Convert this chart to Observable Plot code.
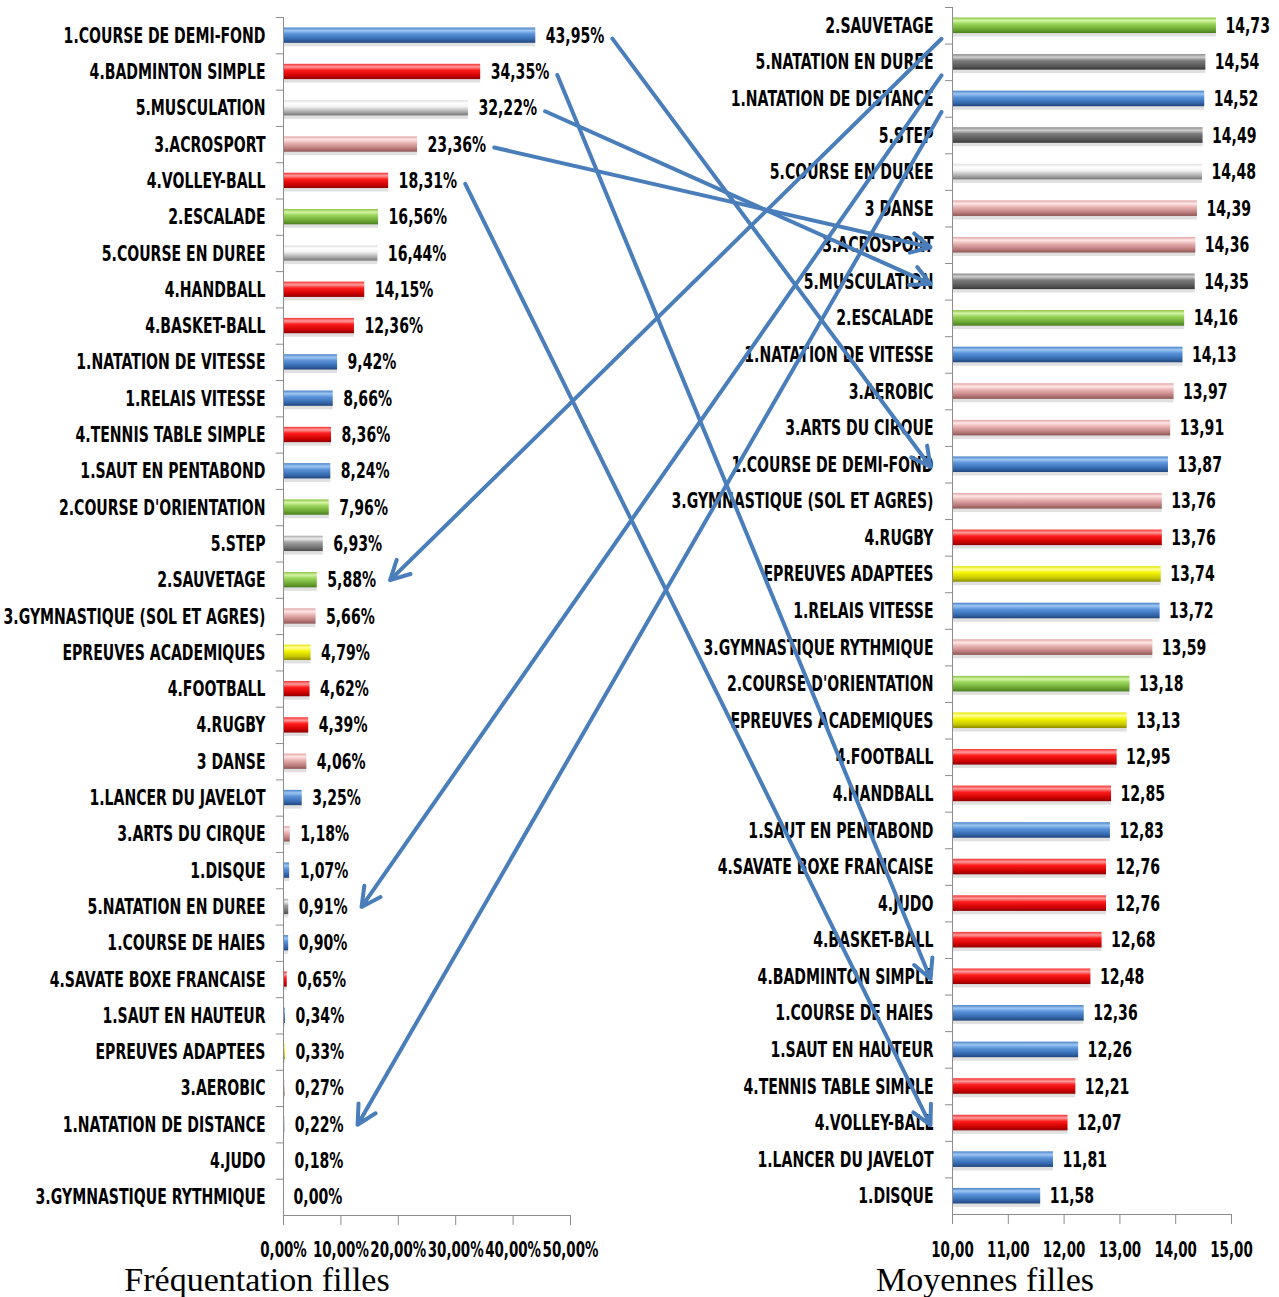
<!DOCTYPE html>
<html><head><meta charset="utf-8">
<script src="https://cdn.jsdelivr.net/npm/d3@7"></script>
<script src="https://cdn.jsdelivr.net/npm/@observablehq/plot@0.6"></script>
<style>
body{margin:0;background:#fff;}
#wrap{position:relative;width:1279px;height:1297px;overflow:hidden;background:#fff;}
.panel{position:absolute;top:0;}
.title{position:absolute;font-family:"Liberation Serif","DejaVu Serif",serif;font-size:34px;color:#000;white-space:nowrap;transform:translateX(-50%);line-height:38px;}
</style></head><body><div id="wrap"></div>
<script>
// ---------- DATA ----------
const freqCategories = ["1.COURSE DE DEMI-FOND","4.BADMINTON SIMPLE","5.MUSCULATION","3.ACROSPORT","4.VOLLEY-BALL","2.ESCALADE","5.COURSE EN DUREE","4.HANDBALL","4.BASKET-BALL","1.NATATION DE VITESSE","1.RELAIS VITESSE","4.TENNIS TABLE SIMPLE","1.SAUT EN PENTABOND","2.COURSE D'ORIENTATION","5.STEP","2.SAUVETAGE","3.GYMNASTIQUE (SOL ET AGRES)","EPREUVES ACADEMIQUES","4.FOOTBALL","4.RUGBY","3 DANSE","1.LANCER DU JAVELOT","3.ARTS DU CIRQUE","1.DISQUE","5.NATATION EN DUREE","1.COURSE DE HAIES","4.SAVATE BOXE FRANCAISE","1.SAUT EN HAUTEUR","EPREUVES ADAPTEES","3.AEROBIC","1.NATATION DE DISTANCE","4.JUDO","3.GYMNASTIQUE RYTHMIQUE"];
const freqValues = [43.95,34.35,32.22,23.36,18.31,16.56,16.44,14.15,12.36,9.42,8.66,8.36,8.24,7.96,6.93,5.88,5.66,4.79,4.62,4.39,4.06,3.25,1.18,1.07,0.91,0.90,0.65,0.34,0.33,0.27,0.22,0.18,0.00];
const moyCategories = ["2.SAUVETAGE","5.NATATION EN DUREE","1.NATATION DE DISTANCE","5.STEP","5.COURSE EN DUREE","3 DANSE","3.ACROSPORT","5.MUSCULATION","2.ESCALADE","1.NATATION DE VITESSE","3.AEROBIC","3.ARTS DU CIRQUE","1.COURSE DE DEMI-FOND","3.GYMNASTIQUE (SOL ET AGRES)","4.RUGBY","EPREUVES ADAPTEES","1.RELAIS VITESSE","3.GYMNASTIQUE RYTHMIQUE","2.COURSE D'ORIENTATION","EPREUVES ACADEMIQUES","4.FOOTBALL","4.HANDBALL","1.SAUT EN PENTABOND","4.SAVATE BOXE FRANCAISE","4.JUDO","4.BASKET-BALL","4.BADMINTON SIMPLE","1.COURSE DE HAIES","1.SAUT EN HAUTEUR","4.TENNIS TABLE SIMPLE","4.VOLLEY-BALL","1.LANCER DU JAVELOT","1.DISQUE"];
const moyValues = [14.73,14.54,14.52,14.49,14.48,14.39,14.36,14.35,14.16,14.13,13.97,13.91,13.87,13.76,13.76,13.74,13.72,13.59,13.18,13.13,12.95,12.85,12.83,12.76,12.76,12.68,12.48,12.36,12.26,12.21,12.07,11.81,11.58];
const freqTicks = [0,10,20,30,40,50];
const moyTicks = [10,11,12,13,14,15];
const arrowsLeftToRight = ["1.COURSE DE DEMI-FOND","4.BADMINTON SIMPLE","5.MUSCULATION","3.ACROSPORT","4.VOLLEY-BALL"];
const arrowsRightToLeft = ["2.SAUVETAGE","5.NATATION EN DUREE","1.NATATION DE DISTANCE"];
const titleLeft = "Fréquentation filles";
const titleRight = "Moyennes filles";

// ---------- STYLE ----------
const FONT = "'DejaVu Sans',sans-serif";
const FS = 22;          // font size
const SX = 0.64;        // horizontal condensing of the chart texts
const gradients = {
  blue:   ["#4a82c8","#9cc6f2","#5a93da","#3468ad","#22457a"],
  red:    ["#f43030","#ff9c9c","#ff1c1c","#cc0000","#8e0000"],
  gray:   ["#a8a8a8","#efefef","#a4a4a4","#707070","#4e4e4e"],
  dark:   ["#8a8a8a","#cfcfcf","#7c7c7c","#575757","#383838"],
  white:  ["#dedede","#ffffff","#f4f4f4","#a8a8a8","#767676"],
  pink:   ["#e0a4a4","#ffe6e6","#ebb5b5","#bd7c7c","#8c5656"],
  green:  ["#88c440","#d6f4a6","#98d458","#6aa532","#4a7c20"],
  yellow: ["#e6e600","#ffff9c","#f5f500","#c4c400","#8a8a00"]
};
const stopsAt = [0,0.2,0.42,0.78,1];
const groupOf = c => c[0] === "E" ? "yellow" : ({"1":"blue","2":"green","3":"pink","4":"red"})[c[0]] || "gray";
function styleLeft(c){ if (c[0]==="5") return (c==="5.MUSCULATION"||c==="5.COURSE EN DUREE") ? "white" : "gray"; return groupOf(c); }
function styleRight(c){ if (c[0]==="5") return c==="5.COURSE EN DUREE" ? "white" : "dark"; return groupOf(c); }
const fmt = v => v.toFixed(2).replace(".", ",");

function addDefs(svg, prefix){
  const defs = d3.select(svg).insert("defs", ":first-child");
  for (const [k, cols] of Object.entries(gradients)) {
    const g = defs.append("linearGradient").attr("id", prefix + k).attr("x1",0).attr("y1",0).attr("x2",0).attr("y2",1);
    cols.forEach((c,i)=> g.append("stop").attr("offset", stopsAt[i]).attr("stop-color", c));
  }
}
// condense every text horizontally around its own anchor
function condense(svg){
  svg.querySelectorAll("text").forEach(t => {
    const tr = t.getAttribute("transform");
    if (tr && tr.includes("translate")) {
      t.setAttribute("transform", tr + ` scale(${SX},1)`);
    } else {
      const x = +(t.getAttribute("x") || 0), y = +(t.getAttribute("y") || 0);
      t.removeAttribute("x"); t.removeAttribute("y");
      t.setAttribute("transform", `translate(${x},${y}) scale(${SX},1)` + (tr ? " " + tr : ""));
    }
  });
}

const wrap = document.getElementById("wrap");
const GRID = "#8c8c8c";
const baseStyle = {fontFamily: FONT, fontSize: FS + "px", fontWeight: "bold", color: "#000", background: "transparent", overflow: "visible"};

// ---------- LEFT PANEL ----------
const leftData = freqCategories.map((c,i)=>({cat:c, v:freqValues[i]}));
const LH = 1265, LMT = 17, LMB = 50;
const lStep = (LH - LMB - LMT) / freqCategories.length;
const leftPlot = Plot.plot({
  width: 640, height: LH, marginTop: LMT, marginBottom: LMB, marginLeft: 283, marginRight: 70,
  x: {domain: [0,50], label: null},
  y: {domain: freqCategories, padding: 0, round: false, axis: null},
  color: {type: "identity"},
  style: baseStyle,
  marks: [
    Plot.barX(leftData, {y: "cat", x1: 0, x2: "v", insetTop: 11, insetBottom: 10, dy: 3, fill: "#000", fillOpacity: 0.12}),
    Plot.barX(leftData, {y: "cat", x1: 0, x2: "v", insetTop: 10.5, insetBottom: 10.5, fill: d => "url(#L" + styleLeft(d.cat) + ")"}),
    Plot.ruleX([0], {stroke: GRID}),
    Plot.ruleY(freqCategories, {y: d => d, x1: -1.25, x2: 0, dy: -lStep/2, stroke: GRID}),
    Plot.frame({anchor: "bottom", stroke: GRID}),
    Plot.axisX({ticks: freqTicks, tickSize: 10, tickPadding: 17, stroke: GRID, fill: "#000", fontSize: 21, tickFormat: d => fmt(d) + "%", label: null}),
    Plot.text(leftData, {y: "cat", x: 0, dx: -18, text: "cat", textAnchor: "end", fill: "#000"}),
    Plot.text(leftData, {y: "cat", x: "v", dx: 10, text: d => fmt(d.v) + "%", textAnchor: "start", fill: "#000"})
  ]
});
addDefs(leftPlot, "L");
condense(leftPlot);
leftPlot.classList.add("panel"); leftPlot.style.left = "0px";
wrap.appendChild(leftPlot);

// ---------- RIGHT PANEL ----------
const rightData = moyCategories.map((c,i)=>({cat:c, v:moyValues[i]}));
const RH = 1265, RMT = 7, RMB = 51;
const rStep = (RH - RMB - RMT) / moyCategories.length;
const rightPlot = Plot.plot({
  width: 639, height: RH, marginTop: RMT, marginBottom: RMB, marginLeft: 312, marginRight: 48,
  x: {domain: [10,15], label: null},
  y: {domain: moyCategories, padding: 0, round: false, axis: null},
  color: {type: "identity"},
  style: baseStyle,
  marks: [
    Plot.barX(rightData, {y: "cat", x1: 10, x2: "v", insetTop: 11, insetBottom: 10, dy: 3, fill: "#000", fillOpacity: 0.12}),
    Plot.barX(rightData, {y: "cat", x1: 10, x2: "v", insetTop: 10.5, insetBottom: 10.5, fill: d => "url(#R" + styleRight(d.cat) + ")"}),
    Plot.ruleX([10], {stroke: GRID}),
    Plot.ruleY(moyCategories, {y: d => d, x1: 9.875, x2: 10, dy: -rStep/2, stroke: GRID}),
    Plot.frame({anchor: "bottom", stroke: GRID}),
    Plot.axisX({ticks: moyTicks, tickSize: 10, tickPadding: 18, stroke: GRID, fill: "#000", fontSize: 21, tickFormat: d => fmt(d), label: null}),
    Plot.text(rightData, {y: "cat", x: 10, dx: -19, text: "cat", textAnchor: "end", fill: "#000"}),
    Plot.text(rightData, {y: "cat", x: "v", dx: 9, text: d => fmt(d.v), textAnchor: "start", fill: "#000"})
  ]
});
addDefs(rightPlot, "R");
condense(rightPlot);
rightPlot.classList.add("panel"); rightPlot.style.left = "640px";
wrap.appendChild(rightPlot);

// ---------- ARROWS (overlay, positions derived from the panels' scales) ----------
const ctx = document.createElement("canvas").getContext("2d");
ctx.font = `bold ${FS}px ${FONT}`;
const tw = s => ctx.measureText(s).width * SX;
const lx = leftPlot.scale("x"), ly = leftPlot.scale("y");
const rx = rightPlot.scale("x"), ry = rightPlot.scale("y");
const lyc = c => ly.apply(c) + ly.bandwidth / 2;
const ryc = c => ry.apply(c) + ry.bandwidth / 2;
const lVal = c => freqValues[freqCategories.indexOf(c)];
const leftLabelEnd = c => lx.apply(lVal(c)) + 10 + tw(fmt(lVal(c)) + "%");
const rightLabelEnd = 640 + rx.apply(10) - 19;
const arrowData = [
  ...arrowsLeftToRight.map(c => ({x1: leftLabelEnd(c) + 8, y1: lyc(c) + 3, x2: rightLabelEnd - 3, y2: ryc(c) + 2})),
  ...arrowsRightToLeft.map(c => ({x1: rightLabelEnd + 8, y1: ryc(c) + 13, x2: leftLabelEnd(c) + 14, y2: lyc(c)}))
];
const overlay = Plot.plot({
  width: 1279, height: 1297, margin: 0,
  x: {domain: [0,1279], range: [0,1279], axis: null},
  y: {domain: [0,1297], range: [0,1297], axis: null},
  style: {background: "transparent"},
  marks: [
    Plot.arrow(arrowData, {x1: "x1", y1: "y1", x2: "x2", y2: "y2", stroke: "#4a7ebb", strokeWidth: 4, headLength: 8, headAngle: 55})
  ]
});
overlay.classList.add("panel"); overlay.style.left = "0px"; overlay.style.pointerEvents = "none";
wrap.appendChild(overlay);

// ---------- TITLES ----------
function addTitle(text, cx){
  const d = document.createElement("div");
  d.className = "title"; d.textContent = text; d.style.left = cx + "px"; d.style.top = "1261px";
  wrap.appendChild(d);
}
addTitle(titleLeft, 257);
addTitle(titleRight, 985);
</script></body></html>
